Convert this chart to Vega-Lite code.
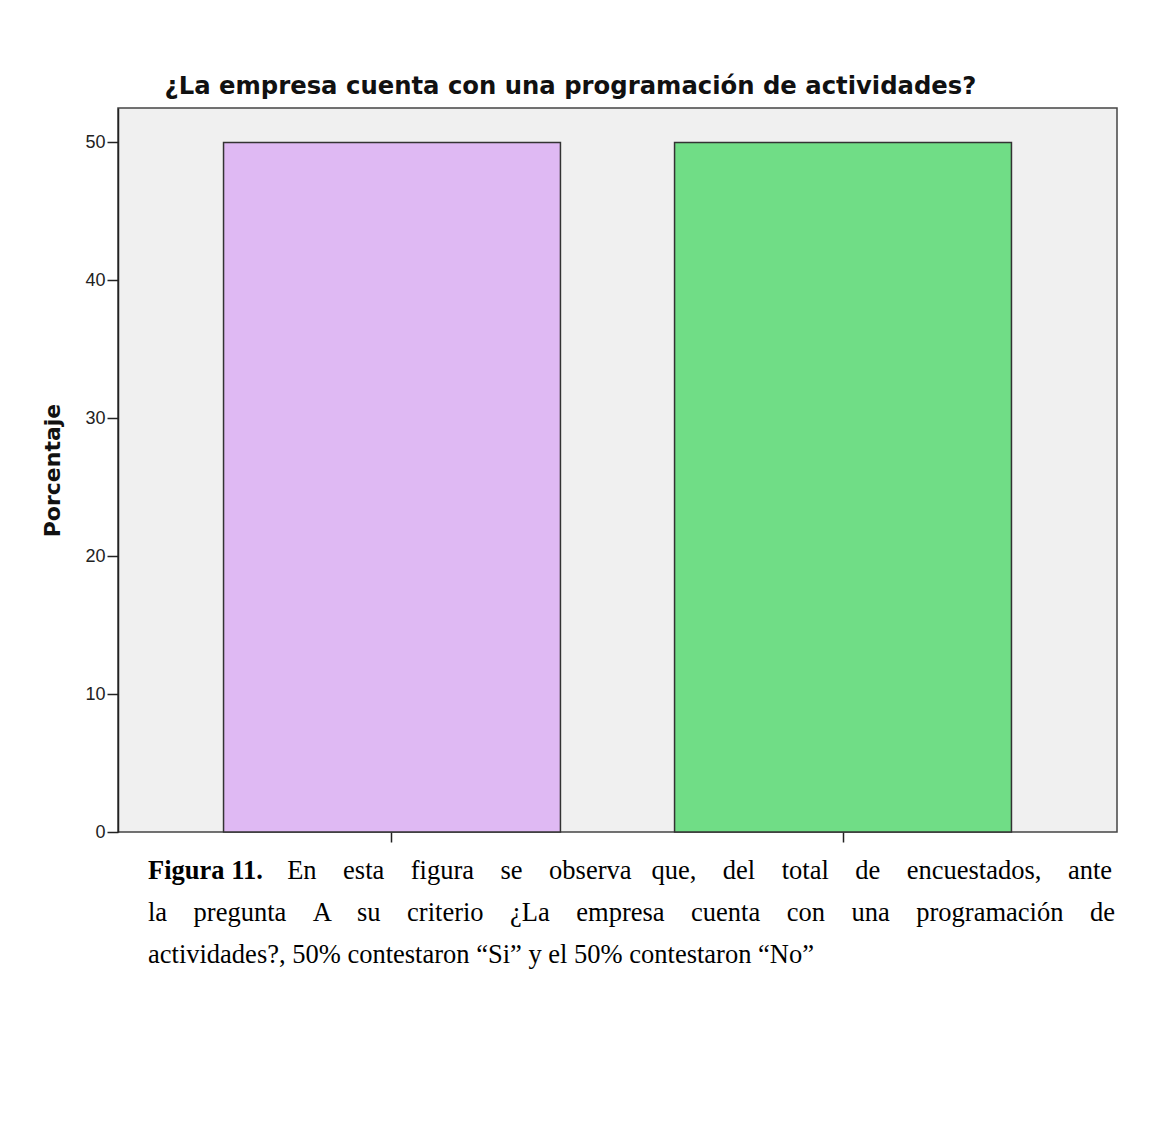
{
  "$schema": "https://vega.github.io/schema/vega-lite/v6.json",
  "background": "white",
  "padding": {"left": 41, "top": 74, "right": 0, "bottom": 0},
  "title": {
    "text": "¿La empresa cuenta con una programación de actividades?",
    "font": "DejaVu Sans",
    "fontSize": 24.3,
    "fontWeight": "bold",
    "color": "#111111",
    "anchor": "middle",
    "dx": -9,
    "offset": 8
  },
  "vconcat": [
    {
      "width": 999,
      "height": 724,
      "title": {
        "text": "Figura 11.",
        "orient": "bottom",
        "anchor": "start",
        "frame": "group",
        "dx": 30,
        "offset": 15,
        "font": "Liberation Serif",
        "fontSize": 26.5,
        "fontWeight": "bold",
        "color": "#000000",
        "subtitle": [
          "\u200b\u00a0\u00a0\u00a0\u00a0\u00a0\u00a0\u00a0\u00a0\u00a0\u00a0\u00a0\u00a0\u00a0\u00a0\u00a0\u00a0\u00a0\u00a0\u00a0\u00a0\u00a0En \u00a0\u00a0\u00a0esta \u00a0\u00a0\u00a0figura \u00a0\u00a0\u00a0se \u00a0\u00a0\u00a0observa \u00a0\u00a0que, \u00a0\u00a0\u00a0del \u00a0\u00a0\u00a0total \u00a0\u00a0\u00a0de \u00a0\u00a0\u00a0encuestados, \u00a0\u00a0\u00a0ante",
          "la \u00a0\u00a0\u00a0pregunta \u00a0\u00a0\u00a0A \u00a0\u00a0\u00a0su \u00a0\u00a0\u00a0criterio \u00a0\u00a0\u00a0¿La \u00a0\u00a0\u00a0empresa \u00a0\u00a0\u00a0cuenta \u00a0\u00a0\u00a0con \u00a0\u00a0\u00a0una \u00a0\u00a0\u00a0programación \u00a0\u00a0\u00a0de",
          "actividades?, 50% contestaron “Si” y el 50% contestaron “No”"
        ],
        "subtitleFont": "Liberation Serif",
        "subtitleFontSize": 26.5,
        "subtitleFontWeight": "normal",
        "subtitleColor": "#000000",
        "subtitleLineHeight": 42,
        "subtitlePadding": -26.5
      },
      "data": {
        "values": [
          {"respuesta": "Si", "porcentaje": 50},
          {"respuesta": "No", "porcentaje": 50}
        ]
      },
      "mark": {"type": "bar", "stroke": "#333333", "strokeWidth": 1.5},
      "encoding": {
        "x": {
          "field": "respuesta",
          "type": "nominal",
          "sort": ["Si", "No"],
          "scale": {"paddingInner": 0.253, "paddingOuter": 0.234},
          "axis": {
            "labels": false,
            "title": null,
            "domain": false,
            "ticks": true,
            "tickSize": 10,
            "tickColor": "#222222",
            "tickWidth": 1.5
          }
        },
        "y": {
          "field": "porcentaje",
          "type": "quantitative",
          "scale": {"domain": [0, 52.5], "nice": false},
          "axis": {
            "values": [0, 10, 20, 30, 40, 50],
            "grid": false,
            "title": "Porcentaje",
            "titleFont": "DejaVu Sans",
            "titleFontSize": 22,
            "titleFontWeight": "bold",
            "titleColor": "#111111",
            "titlePadding": 20,
            "labelFont": "Liberation Sans",
            "labelFontSize": 18,
            "labelColor": "#222222",
            "labelPadding": 2,
            "tickSize": 11,
            "tickColor": "#222222",
            "tickWidth": 1.5,
            "domainColor": "#222222",
            "domainWidth": 1.5
          }
        },
        "color": {
          "field": "respuesta",
          "type": "nominal",
          "scale": {"domain": ["Si", "No"], "range": ["#dfb9f3", "#70dd86"]},
          "legend": null
        }
      }
    }
  ],
  "config": {
    "view": {"fill": "#f0f0f0", "stroke": "#444444", "strokeWidth": 1.5},
    "concat": {"spacing": 0}
  }
}
